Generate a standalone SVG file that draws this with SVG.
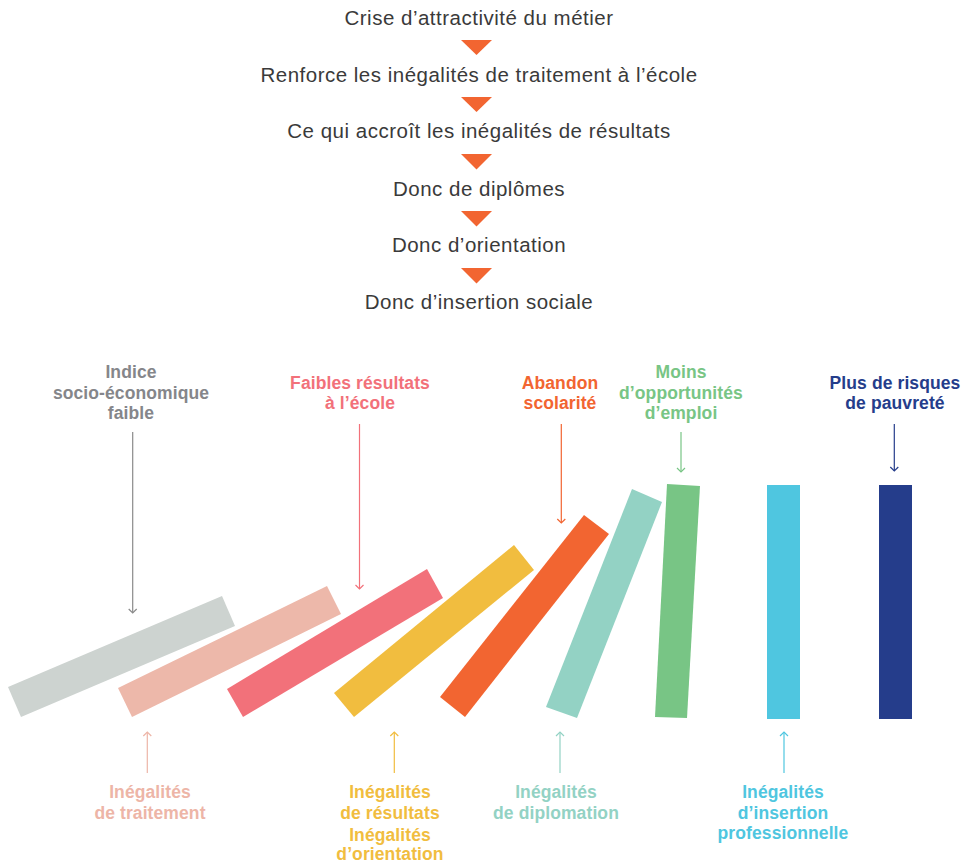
<svg xmlns="http://www.w3.org/2000/svg" width="970" height="864" viewBox="0 0 970 864">
<style>
  .step { font-family: "Liberation Sans", Arial, sans-serif; font-size: 20.5px; fill: #3a3a3a; text-anchor: middle; letter-spacing: 0.5px; }
  .lbl { font-family: "Liberation Sans", Arial, sans-serif; font-size: 17.5px; font-weight: bold; text-anchor: middle; letter-spacing: 0.1px; }
  .tri { fill: #F26531; }
  .arr { fill: none; stroke-width: 1.2; }
  .c-gray { fill: #85868A; } .s-gray { stroke: #8A8A8A; }
  .c-salmon { fill: #EDB5A7; } .s-salmon { stroke: #EDB5A7; }
  .c-red { fill: #F2717A; } .s-red { stroke: #F2717A; }
  .c-yellow { fill: #F1BD3F; } .s-yellow { stroke: #F1BD3F; }
  .c-orange { fill: #F26531; } .s-orange { stroke: #F26531; }
  .c-teal { fill: #93D2C4; } .s-teal { stroke: #93D2C4; }
  .c-green { fill: #78C585; } .s-green { stroke: #78C585; }
  .c-cyan { fill: #4FC6E0; } .s-cyan { stroke: #4FC6E0; }
  .c-navy { fill: #253D8B; } .s-navy { stroke: #253D8B; }
</style>
<defs>
  <marker id="m-gray" viewBox="-5 -5 10 10" refX="0" refY="0" markerWidth="10" markerHeight="10" markerUnits="userSpaceOnUse" orient="auto"><path d="M-4,-4 L0,0 L-4,4" fill="none" stroke="#8A8A8A" stroke-width="1.2"/></marker>
  <marker id="m-salmon" viewBox="-5 -5 10 10" refX="0" refY="0" markerWidth="10" markerHeight="10" markerUnits="userSpaceOnUse" orient="auto"><path d="M-4,-4 L0,0 L-4,4" fill="none" stroke="#EDB5A7" stroke-width="1.2"/></marker>
  <marker id="m-red" viewBox="-5 -5 10 10" refX="0" refY="0" markerWidth="10" markerHeight="10" markerUnits="userSpaceOnUse" orient="auto"><path d="M-4,-4 L0,0 L-4,4" fill="none" stroke="#F2717A" stroke-width="1.2"/></marker>
  <marker id="m-yellow" viewBox="-5 -5 10 10" refX="0" refY="0" markerWidth="10" markerHeight="10" markerUnits="userSpaceOnUse" orient="auto"><path d="M-4,-4 L0,0 L-4,4" fill="none" stroke="#F1BD3F" stroke-width="1.2"/></marker>
  <marker id="m-orange" viewBox="-5 -5 10 10" refX="0" refY="0" markerWidth="10" markerHeight="10" markerUnits="userSpaceOnUse" orient="auto"><path d="M-4,-4 L0,0 L-4,4" fill="none" stroke="#F26531" stroke-width="1.2"/></marker>
  <marker id="m-teal" viewBox="-5 -5 10 10" refX="0" refY="0" markerWidth="10" markerHeight="10" markerUnits="userSpaceOnUse" orient="auto"><path d="M-4,-4 L0,0 L-4,4" fill="none" stroke="#93D2C4" stroke-width="1.2"/></marker>
  <marker id="m-green" viewBox="-5 -5 10 10" refX="0" refY="0" markerWidth="10" markerHeight="10" markerUnits="userSpaceOnUse" orient="auto"><path d="M-4,-4 L0,0 L-4,4" fill="none" stroke="#78C585" stroke-width="1.2"/></marker>
  <marker id="m-cyan" viewBox="-5 -5 10 10" refX="0" refY="0" markerWidth="10" markerHeight="10" markerUnits="userSpaceOnUse" orient="auto"><path d="M-4,-4 L0,0 L-4,4" fill="none" stroke="#4FC6E0" stroke-width="1.2"/></marker>
  <marker id="m-navy" viewBox="-5 -5 10 10" refX="0" refY="0" markerWidth="10" markerHeight="10" markerUnits="userSpaceOnUse" orient="auto"><path d="M-4,-4 L0,0 L-4,4" fill="none" stroke="#253D8B" stroke-width="1.2"/></marker>
</defs>
<rect width="970" height="864" fill="#FFFFFF"/>

<!-- Top chain -->
<g id="step1"><text class="step" x="479" y="25">Crise d’attractivité du métier</text></g>
<g id="step2"><text class="step" x="479" y="82">Renforce les inégalités de traitement à l’école</text></g>
<g id="step3"><text class="step" x="479" y="138">Ce qui accroît les inégalités de résultats</text></g>
<g id="step4"><text class="step" x="479" y="195.5">Donc de diplômes</text></g>
<g id="step5"><text class="step" x="479" y="252">Donc d’orientation</text></g>
<g id="step6"><text class="step" x="479" y="309">Donc d’insertion sociale</text></g>

<!-- Dominoes -->
<g id="domino-gray"><polygon points="8,687 21,717 235,626 222,596" fill="#CDD3D0"/></g>
<g id="domino-salmon"><polygon points="118,688 132,717 341,614 327,586" fill="#EDB8AA"/></g>
<g id="domino-red"><polygon points="227,689 243,717 443,598 427,569" fill="#F2717A"/></g>
<g id="domino-yellow"><polygon points="334,693 354,717 534,570 514,545" fill="#F1BD3F"/></g>
<g id="domino-orange"><polygon points="440,697 465,717 609,534 584,515" fill="#F26531"/></g>
<g id="domino-teal"><polygon points="546,707 577,718 662,502 632,489" fill="#93D2C4"/></g>
<g id="domino-green"><polygon points="655,717 687,718 700,486 667,484" fill="#78C585"/></g>
<g id="domino-cyan"><rect x="767" y="485" width="33" height="234" fill="#4FC6E0"/></g>
<g id="domino-navy"><rect x="879" y="485" width="33" height="234" fill="#253D8B"/></g>

<!-- Top labels -->
<g id="label-indice" class="lbl c-gray">
  <text x="131" y="378">Indice</text>
  <text x="131" y="399">socio-économique</text>
  <text x="131" y="419">faible</text>
</g>
<g id="label-faibles" class="lbl c-red">
  <text x="360" y="389">Faibles résultats</text>
  <text x="360" y="409">à l’école</text>
</g>
<g id="label-abandon" class="lbl c-orange">
  <text x="560" y="389">Abandon</text>
  <text x="560" y="409">scolarité</text>
</g>
<g id="label-moins" class="lbl c-green">
  <text x="681" y="378">Moins</text>
  <text x="681" y="399">d’opportunités</text>
  <text x="681" y="419">d’emploi</text>
</g>
<g id="label-pauvrete" class="lbl c-navy">
  <text x="895" y="389">Plus de risques</text>
  <text x="895" y="409">de pauvreté</text>
</g>

<!-- Bottom labels -->
<g id="label-traitement" class="lbl c-salmon">
  <text x="150" y="798">Inégalités</text>
  <text x="150" y="819">de traitement</text>
</g>
<g id="label-resultats" class="lbl c-yellow">
  <text x="390" y="798">Inégalités</text>
  <text x="390" y="819">de résultats</text>
  <text x="390" y="841">Inégalités</text>
  <text x="390" y="860">d’orientation</text>
</g>
<g id="label-diplomation" class="lbl c-teal">
  <text x="556" y="798">Inégalités</text>
  <text x="556" y="819">de diplomation</text>
</g>
<g id="label-insertion" class="lbl c-cyan">
  <text x="783" y="798">Inégalités</text>
  <text x="783" y="819">d’insertion</text>
  <text x="783" y="839">professionnelle</text>
</g>

<!-- Connectors -->
<g id="connectors">
  <polygon class="tri" points="461,40 492,40 476.5,55"/>
  <polygon class="tri" points="461,97 492,97 476.5,112"/>
  <polygon class="tri" points="461,154 492,154 476.5,169.5"/>
  <polygon class="tri" points="461,211 492,211 476.5,226.5"/>
  <polygon class="tri" points="461,268 492,268 476.5,283.5"/>

  <line class="arr s-gray" x1="132.7" y1="432" x2="132.7" y2="613" marker-end="url(#m-gray)"/>
  <line class="arr s-red" x1="359.5" y1="424" x2="359.5" y2="589" marker-end="url(#m-red)"/>
  <line class="arr s-orange" x1="561.3" y1="424" x2="561.3" y2="523" marker-end="url(#m-orange)"/>
  <line class="arr s-green" x1="681" y1="432" x2="681" y2="472" marker-end="url(#m-green)"/>
  <line class="arr s-navy" x1="894.3" y1="424" x2="894.3" y2="471" marker-end="url(#m-navy)"/>

  <line class="arr s-salmon" x1="147.3" y1="773" x2="147.3" y2="732" marker-end="url(#m-salmon)"/>
  <line class="arr s-yellow" x1="394.3" y1="773" x2="394.3" y2="732" marker-end="url(#m-yellow)"/>
  <line class="arr s-teal" x1="560" y1="773" x2="560" y2="732" marker-end="url(#m-teal)"/>
  <line class="arr s-cyan" x1="784" y1="773" x2="784" y2="732" marker-end="url(#m-cyan)"/>
</g>
</svg>
